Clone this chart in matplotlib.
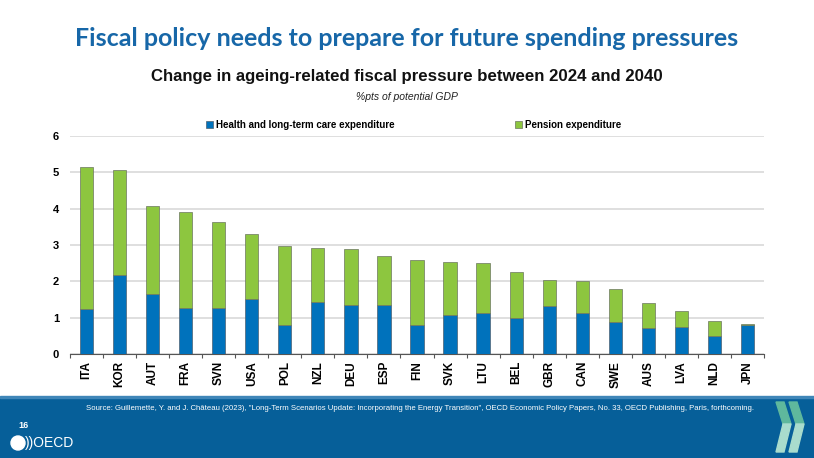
import matplotlib
matplotlib.use("Agg")
import matplotlib.pyplot as plt
from matplotlib.patches import Rectangle, Polygon, Circle
import numpy as np

countries = ["ITA", "KOR", "AUT", "FRA", "SVN", "USA", "POL", "NZL", "DEU", "ESP", "FIN",
             "SVK", "LTU", "BEL", "GBR", "CAN", "SWE", "AUS", "LVA", "NLD", "JPN"]
health = [1.24, 2.17, 1.64, 1.27, 1.27, 1.52, 0.79, 1.42, 1.34, 1.34, 0.79,
          1.07, 1.12, 0.98, 1.32, 1.12, 0.87, 0.72, 0.74, 0.49, 0.81]
total = [5.16, 5.06, 4.06, 3.92, 3.64, 3.31, 2.97, 2.91, 2.89, 2.70, 2.59,
         2.54, 2.50, 2.26, 2.05, 2.00, 1.79, 1.39, 1.17, 0.90, 0.83]
pension = [round(t - h, 2) for t, h in zip(total, health)]
yticks = [0, 1, 2, 3, 4, 5, 6]
series_names = ["Health and long-term care expenditure", "Pension expenditure"]

BLUE = "#0072BC"
GREEN = "#8DC63F"
FOOT = "#065F99"
TITLE = "#1767A8"

fig = plt.figure(figsize=(8.14, 4.58), dpi=100)
W, H = 814, 458

def fx(px):
    return px / W

def fy(py):
    return 1 - py / H

ax = fig.add_axes([fx(70), fy(354), fx(764) - fx(70), fy(136) - fy(354)])
x = np.arange(len(countries))
b1 = ax.bar(x, health, width=0.4, color=BLUE, edgecolor="#4d6070", linewidth=0.5, zorder=3,
            label=series_names[0])
b2 = ax.bar(x, pension, bottom=health, width=0.4, color=GREEN, edgecolor="#6b7560", linewidth=0.5,
            zorder=3, label=series_names[1])
ax.set_xlim(-0.5, len(countries) - 0.5)
ax.set_ylim(0, 6)
ax.set_yticks(yticks)
ax.set_yticklabels([str(v) for v in yticks], fontsize=8, fontweight="bold", family="Liberation Sans")
ax.set_xticks(x)
ax.set_xticklabels(countries, rotation=90, fontsize=8.5, fontweight="bold", family="Liberation Sans")
ax.set_xticks(np.arange(-0.5, len(countries), 1.0), minor=True)
ax.tick_params(axis="x", which="major", length=0, pad=5)
ax.tick_params(axis="x", which="minor", length=3, width=0.8, color="#555555", direction="out")
ax.tick_params(axis="y", length=0, pad=8)
for s in ["top", "right", "left"]:
    ax.spines[s].set_visible(False)
ax.spines["bottom"].set_color("#555555")
ax.spines["bottom"].set_linewidth(0.8)
ax.grid(axis="y", color="#D9D9D9", linewidth=1.2, zorder=0)
ax.set_axisbelow(True)

leg = ax.legend(handles=[b1, b2], loc="lower left", bbox_to_anchor=(fx(200) / (fx(764) - fx(70)) - 0.1, 1.0),
                ncol=2, frameon=False, handlelength=0.7, handleheight=0.7, handletextpad=0.3,
                columnspacing=12.4, borderaxespad=0.2,
                prop={"family": "Liberation Sans", "weight": "bold", "size": 7})

fig.text(0.5, fy(38), "Fiscal policy needs to prepare for future spending pressures",
         ha="center", va="center", fontsize=18, fontweight="bold", color=TITLE, family="Lato")
fig.text(0.5, fy(76), "Change in ageing-related fiscal pressure between 2024 and 2040",
         ha="center", va="center", fontsize=12.1, fontweight="bold", color="#111111", family="Liberation Sans")
fig.text(0.5, fy(97), "%pts of potential GDP", ha="center", va="center", fontsize=7.5,
         style="italic", color="#222222", family="Liberation Sans")

# footer band
fig.patches.append(Rectangle((0, 0), 1, fy(397), transform=fig.transFigure, color=FOOT, zorder=-1))
fig.patches.append(Rectangle((0, fy(398)), 1, fy(396) - fy(398), transform=fig.transFigure,
                             color="#3f86b8", zorder=-1))
fig.text(fx(420), fy(409), 'Source: Guillemette, Y. and J. Château (2023), "Long-Term Scenarios Update: Incorporating the Energy Transition", '
         'OECD Economic Policy Papers, No. 33, OECD Publishing, Paris, forthcoming.',
         ha="center", va="center", fontsize=5.55, color="white", family="Liberation Sans")
fig.text(fx(18), fy(425), "16", ha="left", va="center", fontsize=6.5, fontweight="bold", color="white",
         family="Liberation Sans")
fig.patches.append(Circle((18 / 100, (H - 443) / 100), 0.07, transform=fig.dpi_scale_trans, color="white"))
fig.text(fx(25), fy(443), "))OECD", ha="left", va="center", fontsize=10, color="white", family="Liberation Sans")

# chevrons
def chevron(x0):
    top = [(x0, 402), (x0 + 8, 402), (x0 + 15, 424), (x0 + 7, 424)]
    bot = [(x0 + 7, 424), (x0 + 15, 424), (x0 + 8, 452), (x0, 452)]
    for pts, c in [(top, "#5fb89d"), (bot, "#a9dccd")]:
        fig.patches.append(Polygon([(fx(a), fy(b)) for a, b in pts], closed=True,
                                   transform=fig.transFigure, color=c))
chevron(776)
chevron(789)

fig.savefig("out.png", dpi=100)
